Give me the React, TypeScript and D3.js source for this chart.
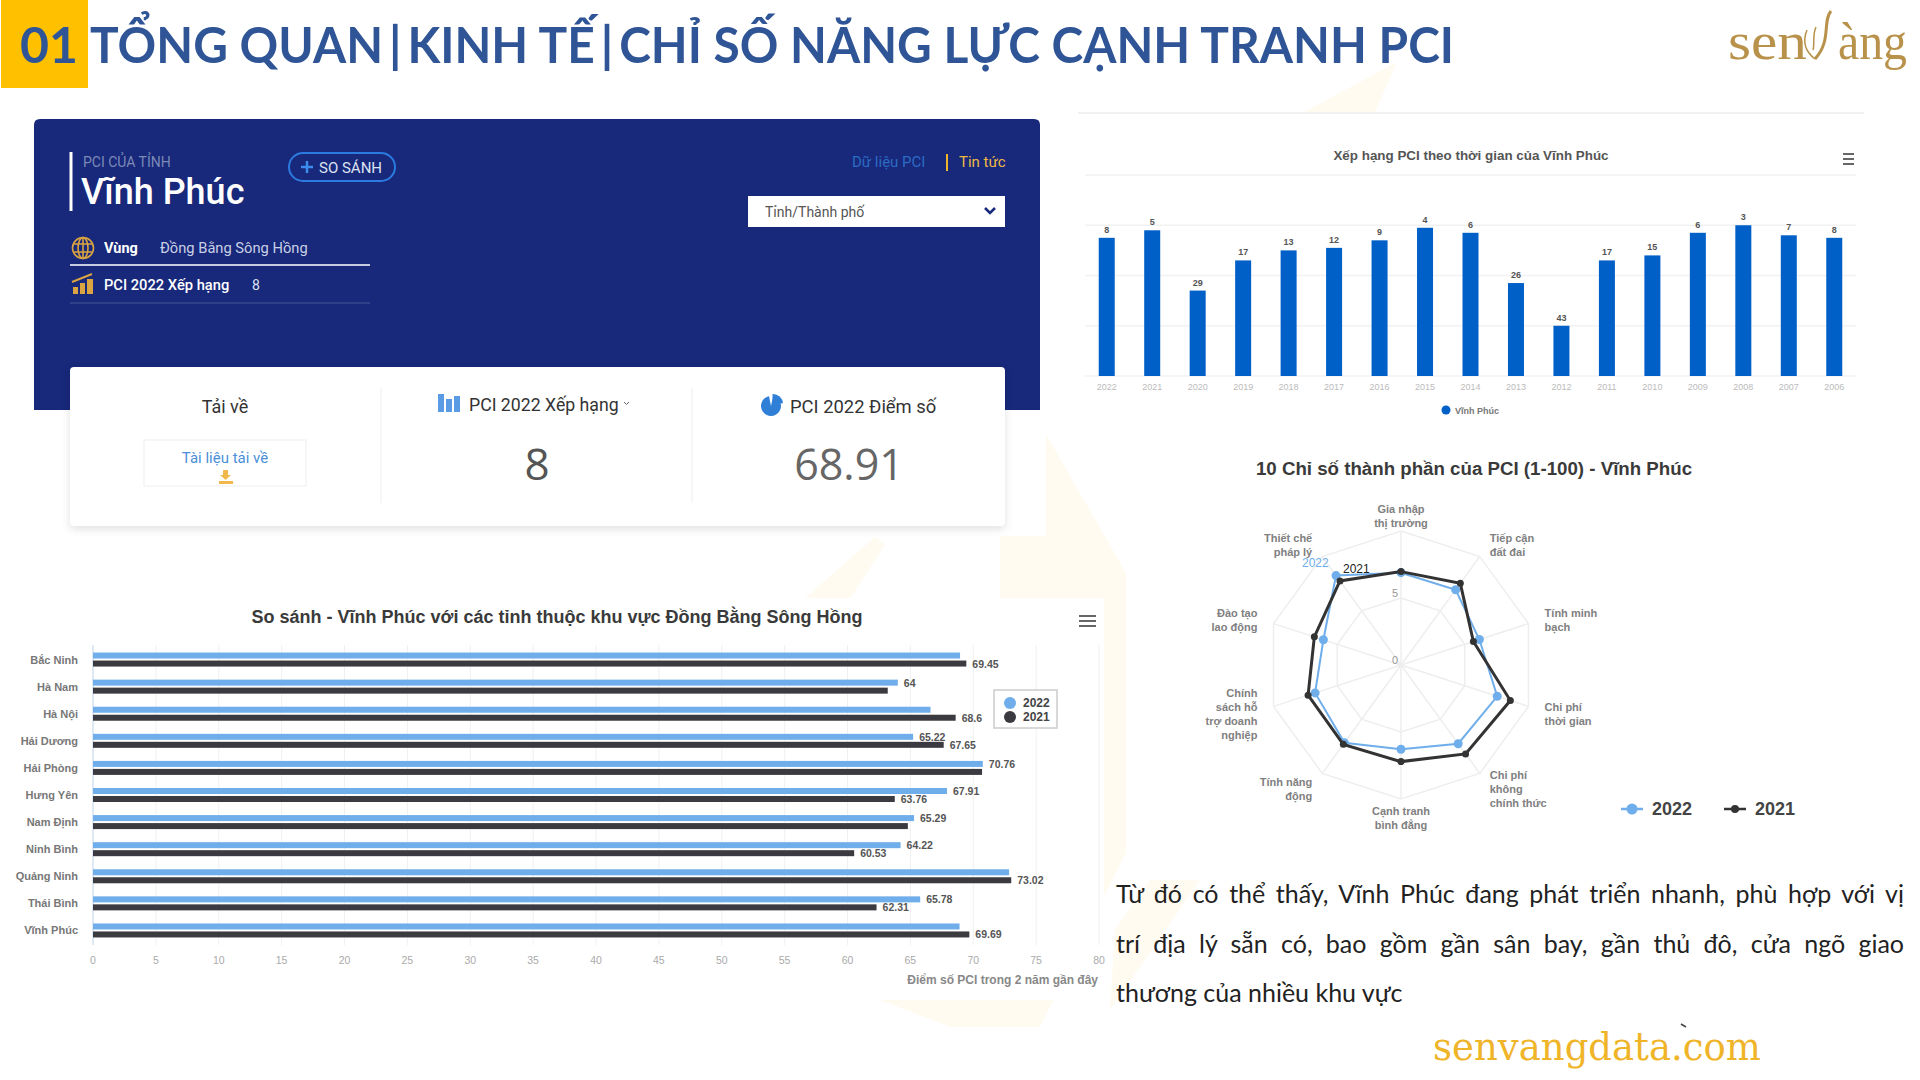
import { useEffect, useRef } from "react";
import * as d3 from "d3";

const provinces = ["Bắc Ninh", "Hà Nam", "Hà Nội", "Hải Dương", "Hải Phòng", "Hưng Yên", "Nam Định", "Ninh Bình", "Quảng Ninh", "Thái Bình", "Vĩnh Phúc"];
const score2022 = [68.95, 64, 66.6, 65.22, 70.76, 67.91, 65.29, 64.22, 72.85, 65.78, 68.91];
const score2021 = [69.45, 63.2, 68.6, 67.65, 70.7, 63.76, 64.8, 60.53, 73.02, 62.31, 69.69];
// the source chart hides labels that collide, so these are the ones it shows
const labels2022 = ["", "64", "", "65.22", "70.76", "67.91", "65.29", "64.22", "", "65.78", ""];
const labels2021 = ["69.45", "", "68.6", "67.65", "", "63.76", "", "60.53", "73.02", "62.31", "69.69"];
const scoreTicks = [0, 5, 10, 15, 20, 25, 30, 35, 40, 45, 50, 55, 60, 65, 70, 75, 80];

const years = ["2022", "2021", "2020", "2019", "2018", "2017", "2016", "2015", "2014", "2013", "2012", "2011", "2010", "2009", "2008", "2007", "2006"];
const ranks = [8, 5, 29, 17, 13, 12, 9, 4, 6, 26, 43, 17, 15, 6, 3, 7, 8];
const rankGrid = [63, 43, 23, 3, -17];

const radarAxes = [
  ["Gia nhập", "thị trường"],
  ["Tiếp cận", "đất đai"],
  ["Tính minh", "bạch"],
  ["Chi phí", "thời gian"],
  ["Chi phí", "không", "chính thức"],
  ["Cạnh tranh", "bình đẳng"],
  ["Tính năng", "động"],
  ["Chính", "sách hỗ", "trợ doanh", "nghiệp"],
  ["Đào tạo", "lao động"],
  ["Thiết chế", "pháp lý"],
];
const radar2022 = [6.89, 6.94, 6.15, 7.55, 7.26, 6.29, 7.18, 6.74, 6.09, 8.25];
const radar2021 = [6.97, 7.53, 5.68, 8.58, 8.2, 7.21, 7.32, 7.29, 6.8, 7.75];
const radarRings = [5, 10];

const paragraph = [
  "Từ đó có thể thấy, Vĩnh Phúc đang phát triển nhanh, phù hợp với vị",
  "trí địa lý sẵn có, bao gồm gần sân bay, gần thủ đô, cửa ngõ giao",
];
const paragraphEnd = "thương của nhiều khu vực";

const sans = "'Liberation Sans', Arial, sans-serif";
const roboto = "Roboto, sans-serif";
const body = "Lato, 'Open Sans', sans-serif";
const light = "#6FAEEA";
const dark = "#3A3A40";
const gold = "#D9A441";
const navy = "#18287A";

const MenuIcon = ({ x, y, w = 17 }: { x: number; y: number; w?: number }) => (
  <g stroke="#666" strokeWidth={2}>
    {[0, 5, 10].map((d) => (
      <line key={d} x1={x} x2={x + w} y1={y + d} y2={y + d} />
    ))}
  </g>
);

// stretches the word gaps until the line fills the column
const JustifiedLine = ({ text, x, y, width }: { text: string; x: number; y: number; width: number }) => {
  const ref = useRef<SVGTextElement>(null);
  useEffect(() => {
    const node = ref.current;
    if (!node) return;
    const gaps = text.split(" ").length - 1;
    d3.select(node).attr("word-spacing", (width - node.getComputedTextLength()) / gaps);
  }, [text, width]);
  return (
    <text ref={ref} x={x} y={y} fontFamily={body} fontSize={25} fill="#222">
      {text}
    </text>
  );
};

const Background = () => (
  <g>
    <rect width={1920} height={1080} fill="#fff" />
    <g fill="#FFFBF1">
      <polygon points="1304,112 1397,62 1375,112" />
      <polygon points="1042,427 1126,573 1126,853 1040,1027 950,1027 880,1000 1000,1000 1000,540" />
      <polygon points="805,598 875,537 885,545 850,598" />
      <polygon points="1150,880 1200,880 1110,1010 1115,930" />
    </g>
    <rect x={0} y={598} width={1104} height={402} fill="#fff" />
    <rect x={1140} y={440} width={780} height={410} fill="#fff" />
    <rect x={1078} y={113} width={786} height={330} fill="#fff" />
    <line x1={1078} x2={1864} y1={113} y2={113} stroke="#F1F1F1" strokeWidth={2} />
  </g>
);

const Header = () => (
  <g>
    <rect x={1} y={0} width={87} height={88} fill="#FFC000" />
    <text x={20} y={63} fontFamily={body} fontWeight={700} fontSize={50} fill="#2F5597">
      01
    </text>
    <text x={90} y={63} fontFamily={body} fontWeight={700} fontSize={50} fill="#2F5597" textLength={1364} lengthAdjust="spacingAndGlyphs">
      {"TỔNG QUAN\u2009|\u2009KINH TẾ\u2009|\u2009CHỈ SỐ NĂNG LỰC CẠNH TRANH PCI"}
    </text>
    <g fill="#B8924A" fontFamily="'Liberation Serif', serif" fontSize={52}>
      <text x={1728} y={59} textLength={79} lengthAdjust="spacingAndGlyphs">sen</text>
      <text x={1838} y={59} textLength={69} lengthAdjust="spacingAndGlyphs">àng</text>
    </g>
    <g fill="none" stroke="#B8924A">
      <path d="M1831 11 C1822 22 1832 40 1815 59" strokeWidth={3} />
      <path d="M1807 30 C1802 42 1806 52 1815 59" strokeWidth={1.5} />
      <path d="M1816 27 C1812 36 1815 44 1813 50" strokeWidth={1.5} />
    </g>
  </g>
);

const pieIcon = d3.arc<any>().innerRadius(0).outerRadius(10);

const Dashboard = () => (
  <g fontFamily={roboto}>
    <rect x={28} y={112} width={1018} height={424} fill="#fff" />
    <path d="M34 410 V125 Q34 119 40 119 H1034 Q1040 119 1040 125 V410 Z" fill={navy} />
    <line x1={71} x2={71} y1={152} y2={211} stroke="#fff" strokeWidth={3} />
    <text x={83} y={167} fontSize={14} fill="#7C8AB8">PCI CỦA TỈNH</text>
    <text x={81} y={204} fontSize={36} fontWeight={500} fill="#fff">Vĩnh Phúc</text>
    <rect x={289} y={153} width={106} height={28} rx={14} fill="none" stroke="#2B7BE0" strokeWidth={2} />
    <path d="M301 167 h12 M307 161 v12" stroke="#3C8CF0" strokeWidth={2.5} />
    <text x={319} y={173} fontSize={15} fill="#DDE3F2">SO SÁNH</text>
    <text x={852} y={167} fontSize={15} fill="#2C6CC4">Dữ liệu PCI</text>
    <line x1={947} x2={947} y1={154} y2={171} stroke="#F0B429" strokeWidth={2} />
    <text x={959} y={167} fontSize={15} fill="#EDB945">Tin tức</text>
    <rect x={748} y={196} width={257} height={31} fill="#fff" />
    <text x={765} y={217} fontSize={14} fill="#555">Tỉnh/Thành phố</text>
    <path d="M985 208 l5 5 l5 -5" fill="none" stroke={navy} strokeWidth={2.5} />
    <g stroke={gold} fill="none" strokeWidth={1.6}>
      <circle cx={83} cy={248} r={10.5} />
      <ellipse cx={83} cy={248} rx={5} ry={10.5} />
      <path d="M73 244 h20 M73 252 h20 M83 238 v20" />
    </g>
    <text x={104} y={253} fontSize={14.5} fontWeight={700} fill="#fff">Vùng</text>
    <text x={160} y={253} fontSize={14.7} fill="#C9D0E6">Đồng Bằng Sông Hồng</text>
    <line x1={70} x2={370} y1={265} y2={265} stroke="#C5CCE2" strokeWidth={2} />
    <path d="M73 294 v-7 h5 v7 Z M80 294 v-11 h5 v11 Z M87 294 v-15 h6 v15 Z" fill={gold} />
    <path d="M72 282 L92 274" stroke={gold} strokeWidth={2} />
    <text x={104} y={290} fontSize={14.7} fontWeight={500} fill="#fff">PCI 2022 Xếp hạng</text>
    <text x={252} y={290} fontSize={14} fill="#DDE3F2">8</text>
    <line x1={70} x2={370} y1={303} y2={303} stroke="#39488E" strokeWidth={1.5} />

    <rect x={70} y={367} width={935} height={159} rx={4} fill="#fff" style={{ filter: "drop-shadow(0 3px 4px rgba(0,0,0,0.12))" }} />
    <line x1={381} x2={381} y1={388} y2={503} stroke="#EEE" />
    <line x1={692} x2={692} y1={388} y2={503} stroke="#EEE" />
    <text x={225} y={413} fontSize={18} fill="#333" textAnchor="middle">Tải về</text>
    <rect x={144} y={440} width={162} height={46} fill="#fff" stroke="#EEE" />
    <text x={225} y={463} fontSize={15} fill="#4A8FD8" textAnchor="middle">Tài liệu tải về</text>
    <path d="M223 470 h5 v5 h3 l-5.5 5 l-5.5 -5 h3 Z M219 481 h14 v3 h-14 Z" fill="#F2B84B" />
    <path d="M438 394 h6 v18 h-6 Z M446 399 h6 v13 h-6 Z M454 396 h6 v16 h-6 Z" fill="#5A9BE6" />
    <text x={469} y={411} fontSize={17.7} fill="#333">PCI 2022 Xếp hạng</text>
    <path d="M624 402 l2.5 2.5 l2.5 -2.5" fill="none" stroke="#666" />
    <text x={537} y={480} fontSize={44} fill="#555" textAnchor="middle" fontFamily="'Open Sans', sans-serif">8</text>
    <g transform="translate(771,406)">
      <path d={pieIcon({ startAngle: 0.2, endAngle: 2 * Math.PI - 0.2 }) ?? ""} fill="#2F7FD6" />
      <path d={pieIcon({ startAngle: -0.05, endAngle: 1.5 }) ?? ""} fill="#2F7FD6" transform="translate(2,-2)" />
    </g>
    <text x={790} y={413} fontSize={18.4} fill="#333">PCI 2022 Điểm số</text>
    <text x={849} y={480} fontSize={43} fill="#666" textAnchor="middle" fontFamily="'Open Sans', sans-serif">68.91</text>
  </g>
);

const xScore = d3.scaleLinear().domain([0, 80]).range([93, 1099]);
const yProvince = d3.scaleBand<string>().domain(provinces).range([646, 944]);
const bw = yProvince.bandwidth();
const ySeries = d3.scaleBand<string>().domain(["2022", "2021"]).range([bw / 2 - 8, bw / 2 + 8]);

const CompareChart = () => (
  <g fontFamily={sans}>
    <text x={557} y={623} textAnchor="middle" fontSize={18} fontWeight={700} fill="#3A3A3A">
      So sánh - Vĩnh Phúc với các tỉnh thuộc khu vực Đồng Bằng Sông Hồng
    </text>
    <MenuIcon x={1079} y={616} />
    {scoreTicks.map((t) => (
      <g key={t}>
        <line x1={xScore(t)} x2={xScore(t)} y1={645} y2={945} stroke={t === 0 ? "#D5E2F2" : "#F0F0F0"} strokeWidth={t === 0 ? 1.5 : 1} />
        <text x={xScore(t)} y={964} textAnchor="middle" fontSize={10.5} fill="#AAA">{t}</text>
      </g>
    ))}
    {provinces.map((p, i) => {
      const y0 = yProvince(p) ?? 0;
      const rows = [
        { key: "2022", value: score2022[i], label: labels2022[i], fill: light },
        { key: "2021", value: score2021[i], label: labels2021[i], fill: dark },
      ];
      return (
        <g key={p}>
          <text x={78} y={y0 + bw / 2 + 4} textAnchor="end" fontSize={11} fontWeight={700} fill="#777">{p}</text>
          {rows.map((r) => {
            const cy = y0 + (ySeries(r.key) ?? 0) + ySeries.bandwidth() / 2;
            return (
              <g key={r.key}>
                <rect x={xScore(0)} y={cy - 3} width={xScore(r.value) - xScore(0)} height={6} fill={r.fill} />
                {r.label && (
                  <text x={xScore(r.value) + 6} y={cy + 4} fontSize={10.5} fontWeight={700} fill="#555">{r.label}</text>
                )}
              </g>
            );
          })}
        </g>
      );
    })}
    <text x={1098} y={984} textAnchor="end" fontSize={12} fontWeight={700} fill="#888">
      Điểm số PCI trong 2 năm gần đây
    </text>
    <rect x={994} y={690} width={63} height={38} fill="#fff" stroke="#CCC" strokeWidth={1.5} />
    <circle cx={1010} cy={703} r={6} fill={light} />
    <circle cx={1010} cy={717} r={6} fill={dark} />
    <text x={1023} y={707} fontSize={12} fontWeight={700} fill="#444">2022</text>
    <text x={1023} y={721} fontSize={12} fontWeight={700} fill="#444">2021</text>
  </g>
);

const xYear = d3.scaleBand<string>().domain(years).range([1084, 1857]).paddingInner(0.648).paddingOuter(0.324);
const yRank = d3.scaleLinear().domain([63, -17]).range([376, 175]);

const RankChart = () => (
  <g fontFamily={sans}>
    <text x={1471} y={160} textAnchor="middle" fontSize={13.4} fontWeight={700} fill="#555">
      Xếp hạng PCI theo thời gian của Vĩnh Phúc
    </text>
    <MenuIcon x={1843} y={154} w={11} />
    {rankGrid.map((g) => (
      <line key={g} x1={1085} x2={1856} y1={yRank(g)} y2={yRank(g)} stroke="#F2F2F2" strokeWidth={1.5} />
    ))}
    {years.map((yr, i) => {
      const x = xYear(yr) ?? 0;
      const mid = x + xYear.bandwidth() / 2;
      return (
        <g key={yr}>
          <rect x={x} y={yRank(ranks[i])} width={xYear.bandwidth()} height={yRank(63) - yRank(ranks[i])} fill="#0060C8" />
          <text x={mid} y={yRank(ranks[i]) - 5} textAnchor="middle" fontSize={9} fontWeight={700} fill="#555">{ranks[i]}</text>
          <text x={mid} y={390} textAnchor="middle" fontSize={9} fill="#BBB">{yr}</text>
        </g>
      );
    })}
    <circle cx={1446} cy={410} r={4.5} fill="#0060C8" />
    <text x={1455} y={414} fontSize={9} fontWeight={700} fill="#777">Vĩnh Phúc</text>
  </g>
);

const cx = 1401;
const cy = 665;
const rRadar = d3.scaleLinear().domain([0, 10]).range([0, 134]);
const axisAngle = (i: number) => (i * 2 * Math.PI) / radarAxes.length;
const radarLine = d3
  .lineRadial<number>()
  .angle((_, i) => axisAngle(i))
  .radius((d) => rRadar(d))
  .curve(d3.curveLinearClosed);
const labelR = 151;

const polar = (i: number, r: number) => ({
  x: r * Math.sin(axisAngle(i)),
  y: -r * Math.cos(axisAngle(i)),
});

const RadarChart = () => (
  <g fontFamily={sans}>
    <text x={1474} y={475} textAnchor="middle" fontSize={18.7} fontWeight={700} fill="#3A3A3A">
      10 Chỉ số thành phần của PCI (1-100) - Vĩnh Phúc
    </text>
    <g transform={`translate(${cx},${cy})`}>
      {radarRings.map((t) => (
        <path key={t} d={radarLine(radarAxes.map(() => t)) ?? ""} fill="none" stroke="#EEE" strokeWidth={1.5} />
      ))}
      {radarAxes.map((_, i) => {
        const p = polar(i, rRadar(10));
        return <line key={i} x1={0} y1={0} x2={p.x} y2={p.y} stroke="#EEE" strokeWidth={1.5} />;
      })}
      <text x={-6} y={-68} textAnchor="middle" fontSize={11} fill="#999">5</text>
      <text x={-6} y={-1} textAnchor="middle" fontSize={11} fill="#999">0</text>
      <path d={radarLine(radar2022) ?? ""} fill="none" stroke={light} strokeWidth={2} />
      {radar2022.map((v, i) => {
        const p = polar(i, rRadar(v));
        return <circle key={i} cx={p.x} cy={p.y} r={4.5} fill={light} />;
      })}
      <path d={radarLine(radar2021) ?? ""} fill="none" stroke="#333" strokeWidth={3} />
      {radar2021.map((v, i) => {
        const p = polar(i, rRadar(v));
        return <circle key={i} cx={p.x} cy={p.y} r={3.5} fill="#333" />;
      })}
      {radarAxes.map((lines, i) => {
        const p = polar(i, labelR);
        const anchor = i === 0 || i === 5 ? "middle" : i < 5 ? "start" : "end";
        const top = p.y - 1 - (lines.length - 2) * 7;
        return (
          <text key={i} textAnchor={anchor} fontSize={11} fontWeight={700} fill="#808080">
            {lines.map((l, j) => (
              <tspan key={j} x={p.x} y={top + j * 14}>{l}</tspan>
            ))}
          </text>
        );
      })}
    </g>
    <text x={1302} y={567} fontSize={12} fill={light}>2022</text>
    <text x={1343} y={573} fontSize={12} fill="#222">2021</text>
    <line x1={1621} x2={1643} y1={809} y2={809} stroke={light} strokeWidth={2.5} />
    <circle cx={1632} cy={809} r={5.5} fill={light} />
    <text x={1652} y={815} fontSize={18} fontWeight={700} fill="#444">2022</text>
    <line x1={1724} x2={1746} y1={809} y2={809} stroke="#333" strokeWidth={2.5} />
    <circle cx={1735} cy={809} r={4} fill="#333" />
    <text x={1755} y={815} fontSize={18} fontWeight={700} fill="#444">2021</text>
  </g>
);

const Notes = () => (
  <g>
    {paragraph.map((line, i) => (
      <JustifiedLine key={i} text={line} x={1116} y={903 + i * 49.5} width={788} />
    ))}
    <text x={1116} y={1002} fontFamily={body} fontSize={25} fill="#222">{paragraphEnd}</text>
    <text x={1433} y={1060} fontFamily="'DejaVu Serif Condensed', 'DejaVu Serif', serif" fontSize={40} fill="#F0B429" textLength={328} lengthAdjust="spacingAndGlyphs">
      senvangdata.com
    </text>
    <path d="M1681 1024 l5 3" stroke="#444" strokeWidth={1.5} />
  </g>
);

export default function App() {
  return (
    <svg width={1920} height={1080} style={{ position: "absolute", left: 0, top: 0, display: "block" }}>
      <Background />
      <Header />
      <Dashboard />
      <RankChart />
      <CompareChart />
      <RadarChart />
      <Notes />
    </svg>
  );
}
